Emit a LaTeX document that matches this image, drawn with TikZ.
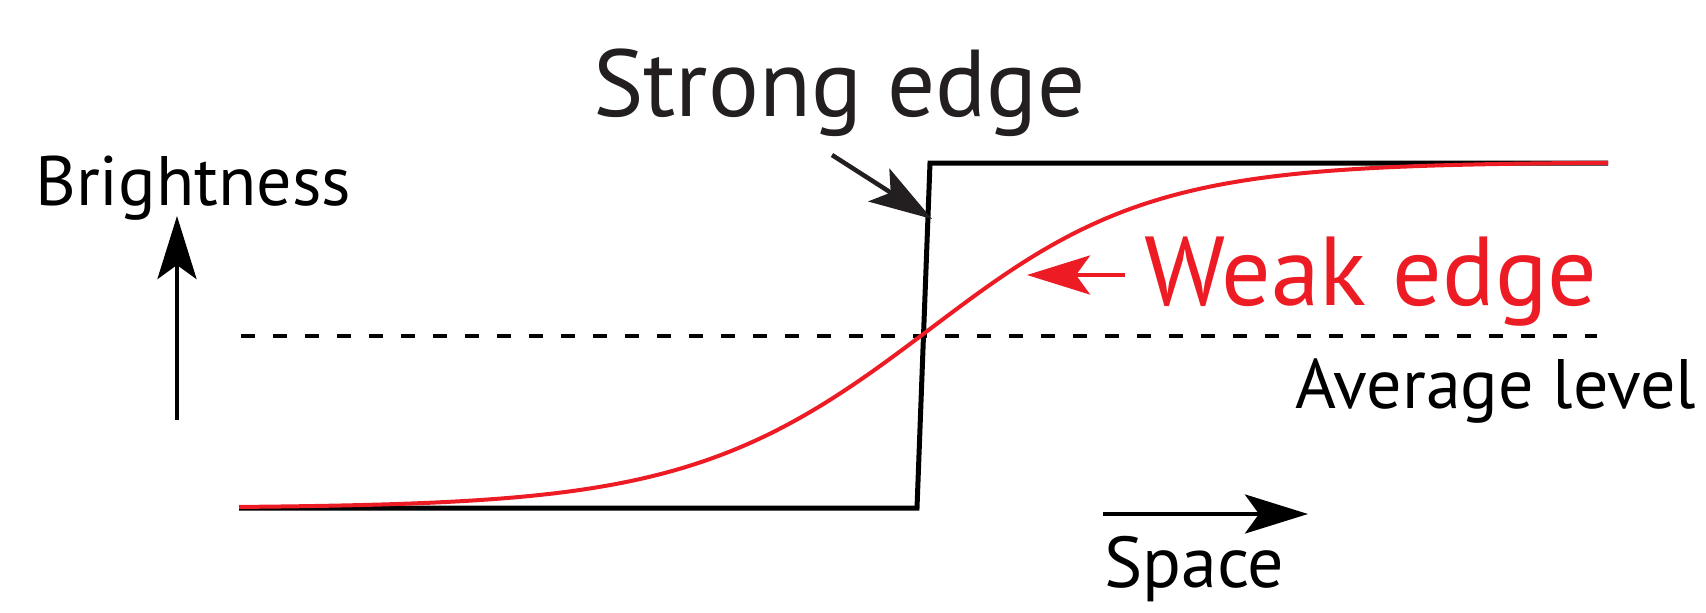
\documentclass[tikz,border=0pt]{standalone}
\usepackage{fontspec}
\setmainfont{PT Sans}
\usepackage{xcolor}
\usepackage{tikz}
\usetikzlibrary{arrows.meta}
\definecolor{Ink}{HTML}{231F20}
\definecolor{EdgeRed}{HTML}{ED1C24}

\begin{document}
\begin{tikzpicture}[x=1pt,y=-1pt,
    pointer/.style={-{Stealth[length=63pt,width=39pt,inset=14pt]},line width=4.5pt},
    bigtext/.style={anchor=base west,inner sep=0pt,font=\fontsize{95}{99}\selectfont},
    smalltext/.style={anchor=base west,inner sep=0pt,font=\fontsize{70}{74}\selectfont}]
  \useasboundingbox (0,0) rectangle (1706,613);

  % labels
  \node[bigtext,text=Ink] (strong) at (593,116) {Strong edge};
  \node[bigtext,text=EdgeRed,font=\fontsize{98}{102}\selectfont] (weak) at (1144,305) {Weak edge};
  \node[smalltext] (bright) at (35,205) {Brightness};
  \node[smalltext] (avg) at (1295,408) {Average level};
  \node[smalltext,font=\fontsize{72}{76}\selectfont] (space) at (1104,587) {Space};

  % average level
  \draw[line width=3.5pt,dash pattern=on 14pt off 18pt] (241,336) -- (1597,336);

  % strong edge (step)
  \draw[line width=5pt,line join=miter] (239,508) -- (917,508) -- (930,163) -- (1608,163);

  % weak edge (smooth)
  \draw[EdgeRed,line width=4pt,samples=240,domain=239:1608]
    plot (\x,{508-346/(1+exp(-(\x-922)/(115-3*tanh((\x-922)/150))))});

  % pointers
  \coordinate (brightfoot) at (177,420);
  \coordinate (brighttip) at (177,216);
  \coordinate (strongtail) at (832,155);
  \coordinate (strongtip) at (932,219);
  \coordinate (weaktail) at (1125,275);
  \coordinate (weaktip) at (1027,275);
  \coordinate (spacetail) at (1103,514);
  \coordinate (spacetip) at (1308,514);
  \draw[pointer] (brightfoot) -- (brighttip);
  \draw[pointer,Ink] (strongtail) -- (strongtip);
  \draw[pointer,EdgeRed] (weaktail) -- (weaktip);
  \draw[pointer] (spacetail) -- (spacetip);
\end{tikzpicture}
\end{document}
